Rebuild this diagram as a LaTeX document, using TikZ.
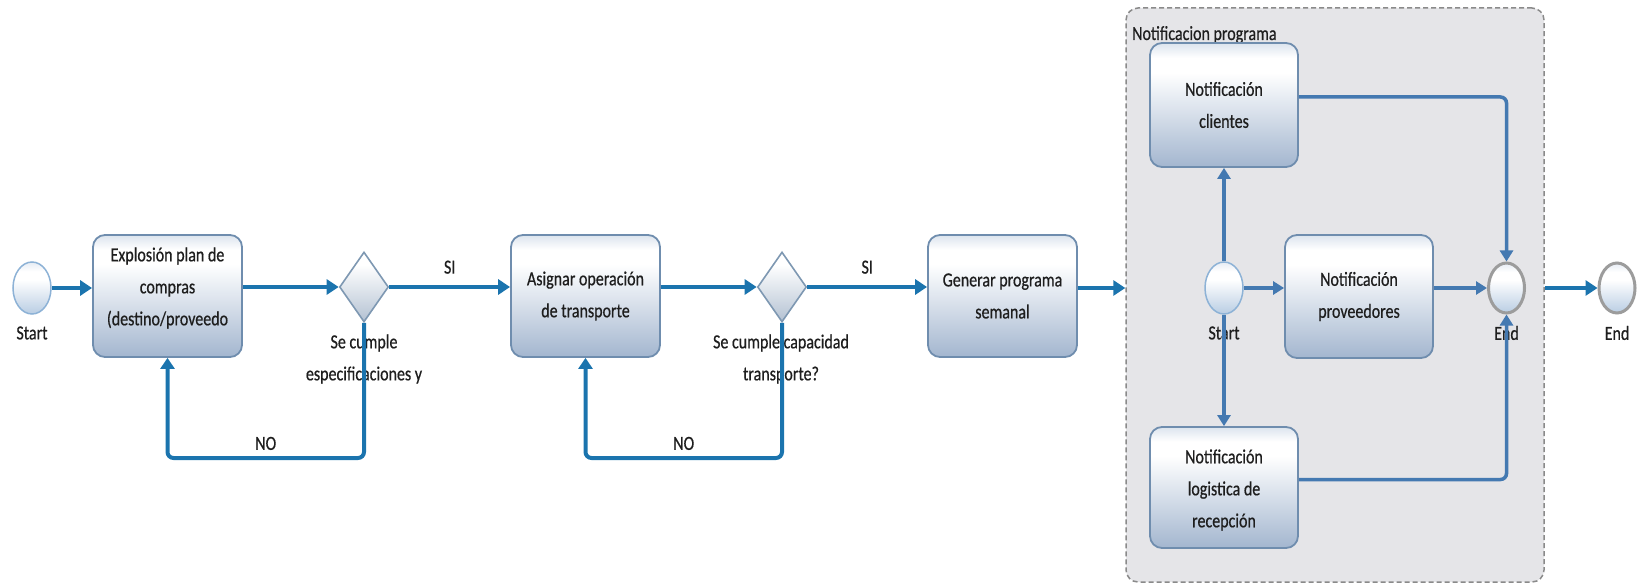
\documentclass[tikz,border=0pt]{standalone}
\usepackage{fontspec}
\setmainfont{Carlito}[FakeStretch=0.8,FakeBold=0.6]
\usetikzlibrary{shapes.geometric,arrows.meta,calc}

\definecolor{ink}{HTML}{1E1E1E}
\definecolor{flow}{HTML}{1B74AE}
\definecolor{innerflow}{HTML}{4479B1}
\definecolor{taskedge}{HTML}{6F8DAE}
\definecolor{tasktop}{HTML}{DCE4EE}
\definecolor{taskbot}{HTML}{A3B6CF}
\definecolor{gateedge}{HTML}{7E98B2}
\definecolor{gatebot}{HTML}{B3C1D2}
\definecolor{evstart}{HTML}{8DB2D6}
\definecolor{evend}{HTML}{9C9C9C}
\definecolor{evtop}{HTML}{E6ECF4}
\definecolor{evbot}{HTML}{B9CDE3}
\definecolor{groupfill}{HTML}{E5E5E8}
\definecolor{groupedge}{HTML}{8A8A8A}

\pgfdeclareverticalshading{taskshade}{100bp}{color(0bp)=(taskbot); color(25bp)=(taskbot); color(63bp)=(white); color(69bp)=(white); color(75bp)=(tasktop); color(100bp)=(tasktop)}
\pgfdeclareverticalshading{gateshade}{100bp}{color(0bp)=(gatebot); color(25bp)=(gatebot); color(66bp)=(white); color(75bp)=(white); color(100bp)=(white)}
\pgfdeclareverticalshading{eventshade}{100bp}{color(0bp)=(evbot); color(25bp)=(evbot); color(58bp)=(white); color(66bp)=(white); color(75bp)=(evtop); color(100bp)=(evtop)}

\newcommand\diafont{\fontsize{20pt}{32pt}\selectfont}

\begin{document}
\begin{tikzpicture}[x=1pt,y=-1pt,
  task/.style={draw=taskedge, line width=1.8pt, rounded corners=12pt, shade, shading=taskshade,
    minimum width=149pt, minimum height=122pt, inner sep=0pt, align=center, font=\diafont, text=ink},
  gate/.style={diamond, draw=gateedge, line width=1.6pt, shade, shading=gateshade,
    minimum width=49pt, minimum height=70pt, inner sep=0pt},
  startev/.style={ellipse, draw=evstart, line width=1.5pt, shade, shading=eventshade,
    minimum width=38pt, minimum height=52pt, inner sep=0pt},
  endev/.style={ellipse, draw=evend, line width=3pt, shade, shading=eventshade,
    minimum width=36pt, minimum height=50pt, inner sep=0pt},
  lbl/.style={font=\diafont, text=ink, inner sep=0pt, align=center},
  groupbox/.style={draw=groupedge, fill=groupfill, line width=1.5pt, dash pattern=on 5pt off 3pt,
    rounded corners=12pt, minimum width=418pt, minimum height=574pt, inner sep=0pt},
  mainflow/.style={draw=flow, line width=4.5pt, -{Triangle[length=12pt,width=15pt]}},
  loopflow/.style={draw=flow, line width=4pt, rounded corners=6pt, -{Triangle[length=11pt,width=14pt]}},
  subflow/.style={draw=innerflow, line width=3.5pt, rounded corners=6pt, -{Triangle[length=11pt,width=13pt]}},
]
\useasboundingbox (0,0) rectangle (1638,585);

% sub-process container
\node[groupbox] (grp) at (1335,295) {};
\node[lbl, anchor=base west] (grplbl) at (1132,40) {Notificacion programa};

% main flow
\node[startev] (s1) at (32,288) {};
\node[lbl] (s1lbl) at (32,333) {Start};
\node[task] (t1) at (167.5,296) {};
\node[lbl] (t1txt) at (167.5,288) {Explosión plan de\\compras\\(destino/proveedo};
\node[gate] (d1) at (364,287) {};
\node[lbl] (d1lbl) at (364,359) {Se cumple\\especificaciones y};
\node[task] (t2) at (585.5,296) {Asignar operación\\de transporte};
\node[gate] (d2) at (782,287) {};
\node[lbl] (d2lbl) at (781,359) {Se cumple capacidad\\transporte?};
\node[task] (t3) at (1002.5,296) {Generar programa\\semanal};

% sub-process content
\node[startev] (s2) at (1224,288) {};
\node[lbl] (s2lbl) at (1224,333) {Start};
\node[task, minimum width=148pt, minimum height=124pt] (cli) at (1224,105) {Notificación\\clientes};
\node[task, minimum width=148pt, minimum height=123pt] (prov) at (1359,296.5) {Notificación\\proveedores};
\node[task, minimum width=148pt, minimum height=121pt] (log) at (1224,487.5) {};
\node[lbl] (logtxt) at (1224,490) {Notificación\\logistica de\\recepción};
\node[endev] (e2) at (1506.5,288) {};
\node[lbl] (e2lbl) at (1506.5,333) {End};
\node[endev] (e3) at (1617,288) {};
\node[lbl] (e3lbl) at (1617,333) {End};

\coordinate (lowpath) at (0,458);

% connectors
\draw[mainflow] (s1.east) -- (s1.east -| t1.west);
\draw[mainflow] (d1.west -| t1.east) -- (d1.west);
\draw[mainflow] (d1.east) -- (d1.east -| t2.west) node[lbl, midway, above=11pt] (si1) {SI};
\draw[mainflow] (d2.west -| t2.east) -- (d2.west);
\draw[mainflow] (d2.east) -- (d2.east -| t3.west) node[lbl, midway, above=11pt] (si2) {SI};
\draw[mainflow] (s2 -| t3.east) -- (s2 -| grp.west);
\draw[mainflow] (e3 -| grp.east) -- (e3.west);

\draw[loopflow] (d1.south) -- (d1.south |- lowpath) -| (t1.south) node[lbl, pos=0.25, above=6pt] (no1) {NO};
\draw[loopflow] (d2.south) -- (d2.south |- lowpath) -| (t2.south) node[lbl, pos=0.25, above=6pt] (no2) {NO};

\draw[subflow] (s2.east) -- (s2.east -| prov.west);
\draw[subflow] (e2.west -| prov.east) -- (e2.west);
\draw[subflow] (s2.north) -- (cli.south);
\draw[subflow] (s2.south) -- (log.north);
\draw[subflow] ([yshift=8pt]cli.east) -| (e2.north);
\draw[subflow] ([yshift=8pt]log.east) -| (e2.south);
\end{tikzpicture}
\end{document}
